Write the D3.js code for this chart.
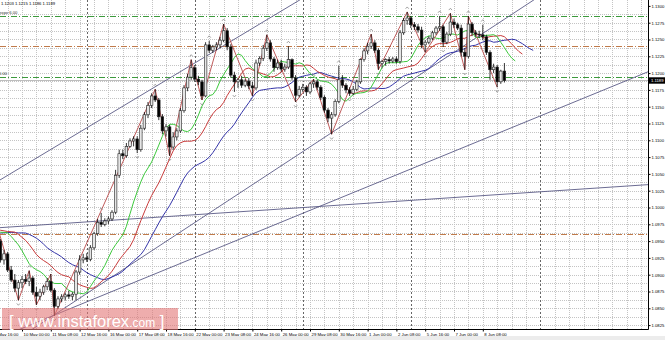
<!DOCTYPE html>
<html>
<head>
<meta charset="utf-8">
<script src="https://cdn.jsdelivr.net/npm/d3@7"></script>
<style>
body { margin: 0; background: #fff; }
svg text { font-family: "Liberation Sans", Arial, sans-serif; }
</style>
</head>
<body>
<svg id="chart" width="665" height="340"></svg>
<script>
// EURUSD H4, bar number 0 = 10 May 00:00
var firstBar = -14;

var opens = [1.0962,1.0966,1.0968,1.0970,1.0962,1.0958,1.0960,1.0966,
  1.0950,1.0922,1.0931,1.0907,1.0892,1.0880,1.0888,1.0893,1.0890,1.0895,1.0874,1.0868,1.0874,1.0882,1.0890,1.0877,
  1.0853,1.0864,1.0867,1.0870,1.0868,1.0871,1.0904,1.0922,1.0925,1.0923,1.0940,1.0961,1.0978,1.0975,1.0980,1.0983,
  1.0993,1.1048,1.1080,1.1077,1.1091,1.1099,1.1102,1.1086,1.1118,1.1138,1.1152,1.1166,1.1160,1.1135,1.1114,1.1120,
  1.1090,1.1105,1.1114,1.1144,1.1178,1.1194,1.1208,1.1191,1.1187,1.1166,1.1242,1.1234,1.1239,1.1242,1.1249,1.1263,
  1.1239,1.1197,1.1187,1.1190,1.1182,1.1188,1.1181,1.1178,1.1215,1.1222,1.1237,1.1245,1.1221,1.1208,1.1215,1.1206,
  1.1209,1.1220,1.1193,1.1167,1.1176,1.1179,1.1172,1.1184,1.1187,1.1179,1.1164,1.1145,1.1133,1.1138,1.1158,1.1190,
  1.1182,1.1175,1.1170,1.1176,1.1187,1.1220,1.1233,1.1240,1.1245,1.1234,1.1214,1.1217,1.1220,1.1218,1.1221,1.1217,
  1.1260,1.1278,1.1282,1.1272,1.1269,1.1264,1.1242,1.1246,1.1252,1.1260,1.1267,1.1269,1.1246,1.1258,1.1276,1.1272,
  1.1267,1.1231,1.1225,1.1273,1.1260,1.1258,1.1257,1.1254,1.1231,1.1205,1.1209,1.1187,1.1203];
var highs = [1.0970,1.0972,1.0974,1.0973,1.0966,1.0964,1.0968,1.0975,
  1.0953,1.0937,1.0934,1.0913,1.0901,1.0892,1.0898,1.0901,1.0906,1.0898,1.0882,1.0879,1.0885,1.0895,1.0901,1.0880,
  1.0868,1.0871,1.0873,1.0876,1.0874,1.0907,1.0929,1.0931,1.0932,1.0944,1.0964,1.0983,1.0992,1.0984,1.0987,1.0996,
  1.1056,1.1086,1.1086,1.1096,1.1103,1.1106,1.1106,1.1123,1.1142,1.1157,1.1170,1.1176,1.1163,1.1139,1.1124,1.1123,
  1.1112,1.1118,1.1148,1.1182,1.1199,1.1220,1.1212,1.1196,1.1190,1.1246,1.1248,1.1242,1.1246,1.1254,1.1273,1.1267,
  1.1243,1.1202,1.1193,1.1196,1.1191,1.1193,1.1187,1.1220,1.1225,1.1242,1.1257,1.1249,1.1224,1.1220,1.1220,1.1214,
  1.1240,1.1222,1.1197,1.1181,1.1184,1.1182,1.1187,1.1191,1.1190,1.1182,1.1167,1.1148,1.1142,1.1161,1.1211,1.1197,
  1.1185,1.1179,1.1181,1.1190,1.1222,1.1237,1.1245,1.1258,1.1249,1.1237,1.1220,1.1222,1.1224,1.1224,1.1225,1.1264,
  1.1282,1.1291,1.1285,1.1276,1.1273,1.1269,1.1249,1.1255,1.1263,1.1270,1.1285,1.1272,1.1261,1.1289,1.1281,1.1275,
  1.1272,1.1237,1.1285,1.1276,1.1264,1.1263,1.1272,1.1257,1.1234,1.1214,1.1212,1.1205,1.1215];
var lows = [1.0956,1.0960,1.0962,1.0958,1.0952,1.0950,1.0955,1.0945,
  1.0918,1.0915,1.0904,1.0889,1.0874,1.0862,1.0880,1.0886,1.0883,1.0870,1.0855,1.0862,1.0870,1.0877,1.0874,1.0839,
  1.0849,1.0859,1.0862,1.0864,1.0862,1.0862,1.0900,1.0917,1.0919,1.0920,1.0937,1.0958,1.0971,1.0972,1.0975,1.0980,
  1.0990,1.1044,1.1072,1.1074,1.1089,1.1091,1.1081,1.1083,1.1115,1.1133,1.1148,1.1157,1.1130,1.1109,1.1106,1.1077,
  1.1086,1.1100,1.1111,1.1141,1.1173,1.1190,1.1187,1.1182,1.1160,1.1164,1.1230,1.1230,1.1234,1.1237,1.1246,1.1234,
  1.1193,1.1172,1.1178,1.1178,1.1179,1.1176,1.1166,1.1175,1.1211,1.1218,1.1233,1.1217,1.1202,1.1205,1.1202,1.1202,
  1.1206,1.1190,1.1157,1.1164,1.1172,1.1166,1.1169,1.1178,1.1175,1.1160,1.1141,1.1127,1.1109,1.1135,1.1155,1.1178,
  1.1170,1.1166,1.1167,1.1173,1.1184,1.1217,1.1228,1.1236,1.1230,1.1205,1.1208,1.1211,1.1214,1.1215,1.1214,1.1214,
  1.1257,1.1272,1.1267,1.1264,1.1260,1.1237,1.1231,1.1243,1.1249,1.1257,1.1263,1.1239,1.1243,1.1255,1.1267,1.1264,
  1.1225,1.1205,1.1222,1.1255,1.1254,1.1252,1.1249,1.1227,1.1190,1.1200,1.1179,1.1184,1.1186];
var closes = [1.0966,1.0968,1.0970,1.0962,1.0958,1.0960,1.0966,1.0950,
  1.0922,1.0931,1.0907,1.0892,1.0880,1.0888,1.0893,1.0890,1.0895,1.0874,1.0868,1.0874,1.0882,1.0890,1.0877,1.0853,
  1.0864,1.0867,1.0870,1.0868,1.0871,1.0904,1.0922,1.0925,1.0923,1.0940,1.0961,1.0978,1.0975,1.0980,1.0983,1.0993,
  1.1048,1.1080,1.1077,1.1091,1.1099,1.1102,1.1086,1.1118,1.1138,1.1152,1.1166,1.1160,1.1135,1.1114,1.1120,1.1090,
  1.1105,1.1114,1.1144,1.1178,1.1194,1.1208,1.1191,1.1187,1.1166,1.1242,1.1234,1.1239,1.1242,1.1249,1.1263,1.1239,
  1.1197,1.1187,1.1190,1.1182,1.1188,1.1181,1.1178,1.1215,1.1222,1.1237,1.1245,1.1221,1.1208,1.1215,1.1206,1.1209,
  1.1220,1.1193,1.1167,1.1176,1.1179,1.1172,1.1184,1.1187,1.1179,1.1164,1.1145,1.1133,1.1138,1.1158,1.1190,1.1182,
  1.1175,1.1170,1.1176,1.1187,1.1220,1.1233,1.1240,1.1245,1.1234,1.1214,1.1217,1.1220,1.1218,1.1221,1.1217,1.1260,
  1.1278,1.1282,1.1272,1.1269,1.1264,1.1242,1.1246,1.1252,1.1260,1.1267,1.1269,1.1246,1.1258,1.1276,1.1272,1.1267,
  1.1231,1.1225,1.1273,1.1260,1.1258,1.1257,1.1254,1.1231,1.1205,1.1209,1.1187,1.1203,1.1189];

var headerText = "1.1203 1.1215 1.1186 1.1189";
var bidPrice = 1.1189;

var timeLabels = ["8 May 16:00","10 May 00:00","11 May 08:00","12 May 16:00","16 May 00:00","17 May 08:00",
  "18 May 16:00","22 May 00:00","23 May 08:00","24 May 16:00","26 May 00:00","29 May 08:00","30 May 16:00",
  "1 Jun 00:00","2 Jun 08:00","5 Jun 16:00","7 Jun 00:00","8 Jun 08:00"];
var timeLabelBars = [-8,0,8,16,24,32,40,48,56,64,72,80,88,96,104,112,120,128];
var separatorBars = [18, 48, 78, 108, 144];

var priceLabels = ["1.1300","1.1275","1.1250","1.1225","1.1200","1.1175","1.1150","1.1125","1.1100","1.1075",
  "1.1050","1.1025","1.1000","1.0975","1.0950","1.0925","1.0900","1.0875","1.0850","1.0825"];

// horizontal levels: green, orange, green, orange
var levelPrices = [1.1285, 1.1240, 1.1194, 1.0961];
var levelNames = ["expo 6.00", "", "0.00", ""];

// trend lines, two anchors each: [bar, price, bar, price]
var trendLines = [
  [-6.1, 1.1041, 77.2, 1.1309],
  [8.6, 1.0839, 142.2, 1.1309],
  [8.6, 1.0839, 173.9, 1.1202],
  [-6.1, 1.0970, 173.9, 1.1034]
];

// zigzag pivots (bar number), alternating high / low
var zigzagBars = [-7,-1,2,4,8,9,37,41,47,50,56,64,68,76,81,86,97,99,107,112,119,123,124,132];

// alligator seeds at the first bar: jaw, teeth, lips
var alligatorSeed = [1.0962, 1.0966, 1.0966];

var svg = d3.select('#chart');
var plotR = 648, plotB = 329;

var x = d3.scaleLinear().domain([0, 100]).range([22, 382]);
var y = d3.scaleLinear().domain([1.0825, 1.1300]).range([325.1, 5.9]);

var bars = closes.map(function(c, i) {
  return { n: firstBar + i, o: opens[i], h: highs[i], l: lows[i], c: c };
});
function barAt(n) { return bars[n - firstBar]; }

svg.append('rect').attr('width', 665).attr('height', 340).attr('fill', '#fff');

svg.append('clipPath').attr('id', 'plot')
  .append('rect').attr('x', 0).attr('y', 0).attr('width', plotR).attr('height', plotB);

var g = svg.append('g').attr('clip-path', 'url(#plot)');

// grid
var vgrid = d3.range(-8, 176, 4).filter(function(n) { return separatorBars.indexOf(n) < 0; });
g.selectAll('.vg').data(vgrid).enter().append('line')
  .attr('x1', function(d) { return Math.round(x(d)) + 0.5; })
  .attr('x2', function(d) { return Math.round(x(d)) + 0.5; })
  .attr('y1', 0).attr('y2', plotB)
  .attr('stroke', '#c4c4c4').attr('stroke-dasharray', '1,1');

var hgrid = d3.range(0, 40).map(function(k) { return 1.0800 + k * 0.00125; });
g.selectAll('.hg').data(hgrid).enter().append('line')
  .attr('x1', 0).attr('x2', plotR)
  .attr('y1', function(d) { return Math.round(y(d)) + 0.5; })
  .attr('y2', function(d) { return Math.round(y(d)) + 0.5; })
  .attr('stroke', '#c4c4c4').attr('stroke-dasharray', '1,1');

g.selectAll('.sep').data(separatorBars).enter().append('line')
  .attr('x1', function(d) { return Math.round(x(d)) + 0.5; })
  .attr('x2', function(d) { return Math.round(x(d)) + 0.5; })
  .attr('y1', 0).attr('y2', plotB)
  .attr('stroke', '#666').attr('stroke-dasharray', '2,2');

// levels
var levelColors = ['#3c9a3c', '#c07a4a', '#3c9a3c', '#c07a4a'];
g.selectAll('.lvl').data(levelPrices).enter().append('line')
  .attr('x1', 0).attr('x2', plotR)
  .attr('y1', function(d) { return Math.round(y(d)) + 0.5; })
  .attr('y2', function(d) { return Math.round(y(d)) + 0.5; })
  .attr('stroke', function(d, i) { return levelColors[i]; })
  .attr('stroke-dasharray', '6,2,1,2');

g.selectAll('.lvlt').data(levelPrices).enter().append('text')
  .attr('x', -1).attr('y', function(d) { return y(d) - 2; })
  .attr('font-size', 4.2).attr('fill', '#333')
  .text(function(d, i) { return levelNames[i]; });

// bid line
g.append('line').attr('x1', 0).attr('x2', plotR)
  .attr('y1', Math.round(y(bidPrice)) + 0.5).attr('y2', Math.round(y(bidPrice)) + 0.5)
  .attr('stroke', '#bdbdbd');

// trend lines, extended across the chart
g.selectAll('.tl').data(trendLines).enter().append('line')
  .each(function(d) {
    var k = (d[3] - d[1]) / (d[2] - d[0]);
    var n0 = -20, n1 = 180;
    d3.select(this)
      .attr('x1', x(n0)).attr('y1', y(d[1] + k * (n0 - d[0])))
      .attr('x2', x(n1)).attr('y2', y(d[1] + k * (n1 - d[0])));
  })
  .attr('stroke', '#5a5a86').attr('stroke-width', 0.9);

// alligator on median price
function smma(n, seed) {
  var v = seed;
  return bars.map(function(b, i) {
    var m = (b.h + b.l) / 2;
    v = i === 0 ? seed : (v * (n - 1) + m) / n;
    return { n: b.n, v: v };
  });
}
var jaw = smma(13, alligatorSeed[0]);
var teeth = smma(8, alligatorSeed[1]);
var lips = smma(5, alligatorSeed[2]);

function maLine(shift) {
  return d3.line().x(function(d) { return x(d.n + shift); }).y(function(d) { return y(d.v); });
}
g.append('path').attr('d', maLine(8)(jaw)).attr('fill', 'none').attr('stroke', '#3434a8').attr('stroke-width', 1);
g.append('path').attr('d', maLine(5)(teeth)).attr('fill', 'none').attr('stroke', '#c83a3a').attr('stroke-width', 1);
g.append('path').attr('d', maLine(3)(lips)).attr('fill', 'none').attr('stroke', '#3cc83c').attr('stroke-width', 1);

// zigzag
var zz = zigzagBars.map(function(n, i) {
  var b = barAt(n);
  return { n: n, p: i % 2 === 0 ? b.h : b.l };
});
g.append('path')
  .attr('d', d3.line().x(function(d) { return x(d.n); }).y(function(d) { return y(d.p); })(zz))
  .attr('fill', 'none').attr('stroke', '#b84848').attr('stroke-width', 0.9);

// candles
var bw = 2.6;
var candle = g.selectAll('.c').data(bars).enter().append('g');
candle.append('line')
  .attr('x1', function(d) { return x(d.n); }).attr('x2', function(d) { return x(d.n); })
  .attr('y1', function(d) { return y(d.h); }).attr('y2', function(d) { return y(d.l); })
  .attr('stroke', '#000').attr('stroke-width', 0.8);
candle.append('rect')
  .attr('x', function(d) { return x(d.n) - bw / 2; })
  .attr('width', bw)
  .attr('y', function(d) { return y(Math.max(d.o, d.c)); })
  .attr('height', function(d) { return Math.max(0.8, Math.abs(y(d.o) - y(d.c))); })
  .attr('fill', function(d) { return d.c >= d.o ? '#e6e6e6' : '#000'; })
  .attr('stroke', '#222').attr('stroke-width', 0.6);

// fractals
var upF = [], dnF = [];
for (var i = 2; i < bars.length - 2; i++) {
  var b = bars[i];
  if (b.h > bars[i-1].h && b.h > bars[i-2].h && b.h > bars[i+1].h && b.h > bars[i+2].h) upF.push(b);
  if (b.l < bars[i-1].l && b.l < bars[i-2].l && b.l < bars[i+1].l && b.l < bars[i+2].l) dnF.push(b);
}
g.selectAll('.fu').data(upF).enter().append('path')
  .attr('d', function(d) {
    var cx = x(d.n), cy = y(d.h) - 5;
    return 'M' + (cx - 1.6) + ',' + (cy + 1.8) + 'L' + cx + ',' + cy + 'L' + (cx + 1.6) + ',' + (cy + 1.8);
  })
  .attr('fill', 'none').attr('stroke', '#8a8a8a').attr('stroke-width', 0.8);
g.selectAll('.fd').data(dnF).enter().append('path')
  .attr('d', function(d) {
    var cx = x(d.n), cy = y(d.l) + 5;
    return 'M' + (cx - 1.6) + ',' + (cy - 1.8) + 'L' + cx + ',' + cy + 'L' + (cx + 1.6) + ',' + (cy - 1.8);
  })
  .attr('fill', 'none').attr('stroke', '#8a8a8a').attr('stroke-width', 0.8);

// header
svg.append('text').attr('x', 1).attr('y', 5).attr('font-size', 4.2).attr('fill', '#000').text(headerText);

// borders
svg.append('line').attr('x1', plotR + 0.5).attr('x2', plotR + 0.5).attr('y1', 0).attr('y2', plotB + 0.5)
  .attr('stroke', '#000');
svg.append('line').attr('x1', 0).attr('x2', plotR + 0.5).attr('y1', plotB + 0.5).attr('y2', plotB + 0.5)
  .attr('stroke', '#000');

// price axis
var yAxis = d3.axisRight(y)
  .tickValues(priceLabels.map(Number))
  .tickFormat(function(d, i) { return priceLabels[i]; })
  .tickSize(2).tickPadding(1);
var ya = svg.append('g').attr('transform', 'translate(' + (plotR + 0.5) + ',0)').call(yAxis);
ya.select('.domain').remove();
ya.selectAll('text').attr('font-size', 4.2).attr('font-family', '"Liberation Sans", Arial, sans-serif').attr('fill', '#000');

// bid box
svg.append('rect').attr('x', plotR + 1).attr('y', y(bidPrice) - 3.2).attr('width', 16).attr('height', 6.4)
  .attr('fill', '#000');
svg.append('text').attr('x', plotR + 3).attr('y', y(bidPrice)).attr('dy', '0.35em')
  .attr('font-size', 4.2).attr('fill', '#fff').text(bidPrice.toFixed(4));

// time axis
var xAxis = d3.axisBottom(x)
  .tickValues(timeLabelBars)
  .tickFormat(function(d, i) { return timeLabels[i]; })
  .tickSize(2).tickPadding(1);
var xa = svg.append('g').attr('transform', 'translate(0,' + (plotB + 0.5) + ')').call(xAxis);
xa.select('.domain').remove();
xa.selectAll('text').attr('font-size', 4.3).attr('font-family', '"Liberation Sans", Arial, sans-serif')
  .attr('text-anchor', 'start').attr('dx', 1).attr('fill', '#000');

svg.append('rect').attr('x', 0).attr('y', 336).attr('width', 665).attr('height', 4).attr('fill', '#ececec');

// watermark
svg.append('rect').attr('x', 2).attr('y', 308).attr('width', 176).attr('height', 22)
  .attr('fill', '#e27777').attr('opacity', 0.6);
var wm = svg.append('text').attr('x', 9).attr('y', 327).attr('fill', '#fff');
wm.append('tspan').attr('font-size', 16.5).text('[ www.instaforex');
wm.append('tspan').attr('font-size', 12).text('.com');
wm.append('tspan').attr('font-size', 16.5).text(' ]');
</script>
</body>
</html>
